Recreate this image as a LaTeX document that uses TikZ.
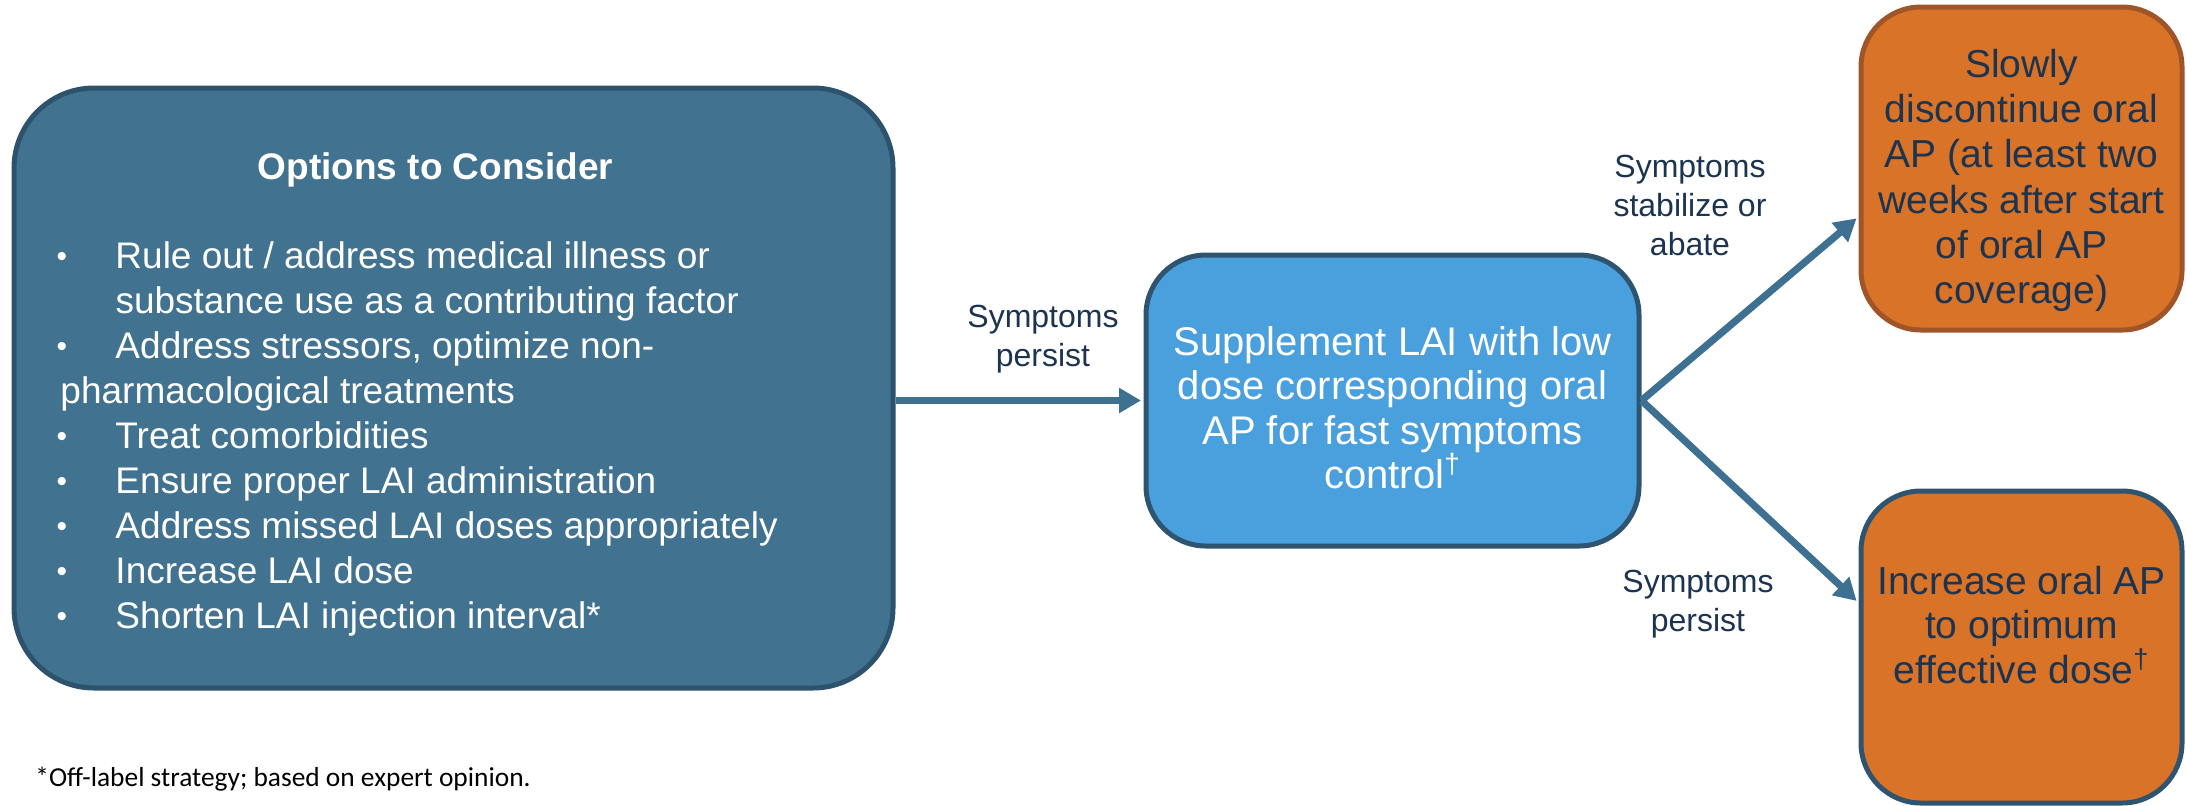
\documentclass[tikz,border=0pt]{standalone}
\usepackage{fontspec}
\setmainfont{Liberation Sans}
\newfontfamily\footfont{Carlito}
\usetikzlibrary{arrows.meta,calc}
\definecolor{leftfill}{RGB}{65,114,143}
\definecolor{leftdraw}{RGB}{44,82,108}
\definecolor{midfill}{RGB}{74,159,221}
\definecolor{darkdraw}{RGB}{47,84,112}
\definecolor{orangefill}{RGB}{217,115,40}
\definecolor{orangedraw}{RGB}{160,85,40}
\definecolor{arrowc}{RGB}{62,112,145}
\definecolor{navy}{RGB}{28,52,80}
\newcommand\optitem[1]{\par\hangindent=27.5pt\hangafter=1\noindent\makebox[27.5pt][l]{\hspace*{-2pt}\raisebox{0.8pt}{\fontsize{15}{15}\selectfont\textbullet}}#1}
\begin{document}
\begin{tikzpicture}[x=0.5pt,y=-0.5pt,
  boxbase/.style={draw, line width=2.5pt, inner sep=0pt},
  textbox/.style={boxbase, align=center, rounded corners=30pt},
  conn/.style={draw=arrowc, line width=3.6pt, shorten >=1.25pt, -{Triangle[length=11pt,width=12pt]}},
  lab/.style={text=navy, font=\fontsize{16}{19.5}\selectfont, align=center, inner sep=0pt}]
\useasboundingbox (0,0) rectangle (2186,805);

\node[boxbase, fill=leftfill, draw=leftdraw, rounded corners=40pt,
      minimum width=439.5pt, minimum height=300pt, text=white,
      font=\fontsize{18.5}{22.5}\selectfont] (opt) at (453.5,388)
  {\hspace*{-18pt}\begin{minipage}{375pt}
   \vspace*{6pt}
   {\centering\bfseries Options to Consider\par}
   \vspace{22pt}
   \raggedright
   \optitem{Rule out / address medical illness or substance use as a contributing factor}
   \optitem{Address stressors, optimize non-\\pharmacological treatments}
   \optitem{Treat comorbidities}
   \optitem{Ensure proper LAI administration}
   \optitem{Address missed LAI doses appropriately}
   \optitem{Increase LAI dose}
   \optitem{Shorten LAI injection interval*}\par
   \end{minipage}};

\node[textbox, fill=midfill, draw=darkdraw, minimum width=246.5pt, minimum height=145.5pt,
      text=white, font=\fontsize{20}{22.3}\selectfont] (mid) at (1392.5,400.5)
  {\rule{0pt}{21.6pt}Supplement LAI with low\\dose corresponding oral\\AP for fast symptoms\\control\textsuperscript{†}};

\node[textbox, fill=orangefill, draw=orangedraw, minimum width=160.5pt, minimum height=161.5pt,
      text=navy, font=\fontsize{19.5}{22.6}\selectfont] (tr) at (2021.5,168.5)
  {\rule{0pt}{26pt}Slowly\\discontinue oral\\AP (at least two\\weeks after start\\of oral AP\\coverage)};

\node[textbox, fill=orangefill, draw=darkdraw, minimum width=160.5pt, minimum height=156pt,
      text=navy, font=\fontsize{19.5}{22.3}\selectfont] (br) at (2021.5,647)
  {Increase oral AP\\to optimum\\effective dose\textsuperscript{†}\\ \mbox{}};

\node[lab] (l1) at (1043,339) {Symptoms\\persist};
\node[lab] (l2) at (1690,205) {Symptoms\\stabilize or\\abate};
\node[lab] (l3) at (1698,604) {Symptoms\\persist};

\node[anchor=west, inner sep=0pt, font=\footfont\fontsize{13.7}{16}\selectfont] (fn) at (35,779)
  {*Off-label strategy; based on expert opinion.};

\draw[conn] (opt.east |- mid.west) -- (mid.west);
\draw[conn] (mid.east) -- ($(tr.south west)!0.353!(tr.north west)$);
\draw[conn] (mid.east) -- ($(br.north west)!0.36!(br.south west)$);
\end{tikzpicture}
\end{document}
